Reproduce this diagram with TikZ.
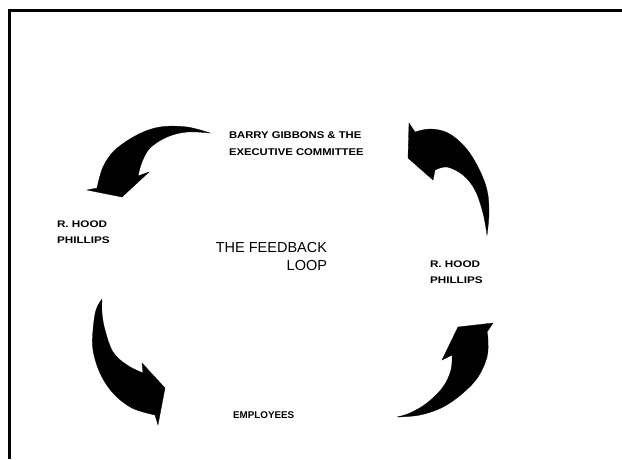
\documentclass[tikz,border=0pt]{standalone}
\usepackage{fontspec}
\setmainfont{Liberation Sans}
\newfontfamily\labfont{Liberation Sans}[FakeStretch=1.15]
\newfontfamily\widefont{Liberation Sans}[FakeStretch=1.22]
\begin{document}
\begin{tikzpicture}[x=1pt,y=-1pt,
  lab/.style={inner sep=0pt,outer sep=0pt,align=left,font=\labfont\bfseries\fontsize{9.8}{16.5}\selectfont},
  side/.style={inner sep=0pt,outer sep=0pt,align=left,font=\widefont\bfseries\fontsize{9.6}{16}\selectfont},
  title/.style={inner sep=0pt,outer sep=0pt,align=right,font=\fontsize{14.5}{18}\selectfont},
  bigarrow/.style={fill=black,draw=black,line width=0.3pt,line join=miter}]
\useasboundingbox (0,0) rectangle (622,459);
% frame
\draw[line width=3pt] (9.5,459) -- (9.5,10) -- (622,10);
% labels (anchor at the baseline of the last line)
\node[lab,anchor=base west] (exec) at (229,155) {BARRY GIBBONS \& THE\\EXECUTIVE COMMITTEE};
\node[side,anchor=base west] (hoodL) at (57,243.5) {R. HOOD\\PHILLIPS};
\node[side,anchor=base west] (hoodR) at (430,283.5) {R. HOOD\\PHILLIPS};
\node[title,anchor=base east] (loop) at (327,270.5) {THE FEEDBACK\\LOOP};
\node[inner sep=0pt,anchor=base west,font=\bfseries\fontsize{9.8}{12}\selectfont] (emp) at (233,418) {EMPLOYEES};
% arrow: top-left (from executive committee to left Hood Phillips)
\fill[bigarrow] plot[smooth,tension=0.6] coordinates {(210,133) (187,127) (160,127) (137,135) (115,150) (103,167) (97,188)}
  -- (87,190) -- (122,197) -- (149,172) -- (138,176)
  -- plot[smooth,tension=0.6] coordinates {(138,176) (142,162) (150,148) (167,137) (187,132) (210,133)} -- cycle;
% arrow: top-right (from right Hood Phillips up to executive committee)
\fill[bigarrow] plot[smooth,tension=0.6] coordinates {(487,235) (489,213) (487,190) (478,167) (465,147) (448,133) (430,129) (415,132)}
  -- (409,123) -- (408,158) -- (433,180) -- (435,170)
  -- plot[smooth,tension=0.6] coordinates {(435,170) (447,167) (463,175) (475,190) (483,213) (487,235)} -- cycle;
% arrow: bottom-left (from left Hood Phillips down to employees)
\fill[bigarrow] plot[smooth,tension=0.6] coordinates {(102,299) (96,310) (93,330) (93,350) (100,373) (113,393) (132,408) (155,415)}
  -- (158,425) -- (165,388) -- (142,363) -- (143,373)
  -- plot[smooth,tension=0.6] coordinates {(143,373) (127,365) (113,352) (105,330) (102,313) (102,299)} -- cycle;
% arrow: bottom-right (from employees up to right Hood Phillips)
\fill[bigarrow] plot[smooth,tension=0.6] coordinates {(397,417) (420,415) (443,407) (463,393) (478,377) (487,357) (488,340) (487,332)}
  -- (493,323) -- (458,327) -- (442,360) -- (452,355)
  -- plot[smooth,tension=0.6] coordinates {(452,355) (451,370) (443,387) (427,403) (410,413) (397,417)} -- cycle;
\end{tikzpicture}
\end{document}
